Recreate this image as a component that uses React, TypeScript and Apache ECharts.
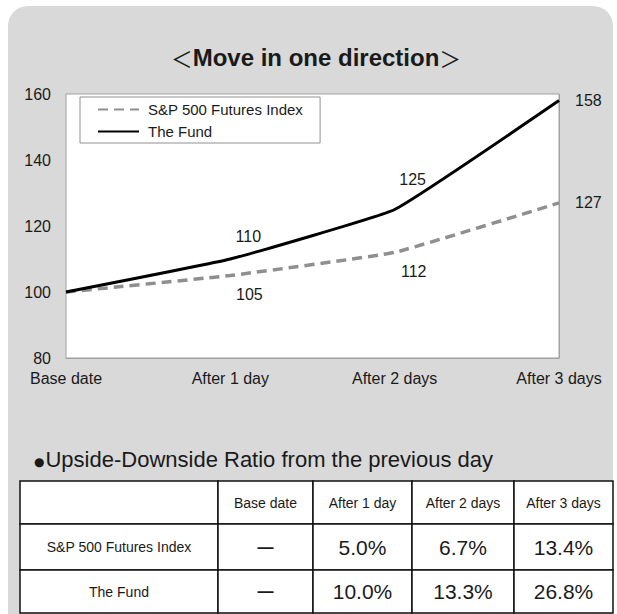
import React, { useEffect, useRef } from "react";
import * as echarts from "echarts";

const categories = ["Base date", "After 1 day", "After 2 days", "After 3 days"];
const spName = "S&P 500 Futures Index";
const fundName = "The Fund";
const spValues = [100, 105, 112, 127];
const fundValues = [100, 110, 125, 158];
const yMin = 80;
const yMax = 160;
const yInterval = 20;
const chartTitle = "Move in one direction";
const tableHeading = "Upside-Downside Ratio from the previous day";
const tableRowNames = [spName, fundName];
const spRatios = ["—", "5.0%", "6.7%", "13.4%"];
const fundRatios = ["—", "10.0%", "13.3%", "26.8%"];

// label placement styles (not data)
const fundLabelStyle = [
  null,
  { position: "top", offset: [18, -10] },
  { position: "top", offset: [18, -17] },
  { position: "right", offset: [11, 0] },
];
const spLabelStyle = [
  null,
  { position: "bottom", offset: [19, 6] },
  { position: "bottom", offset: [19, 6] },
  { position: "right", offset: [11, 0] },
];

const FONT = "'Liberation Sans', Arial, sans-serif";
const TEXT = "#1a1a1a";

function buildSeriesData(values: number[], styles: any[]) {
  return values.map((v, i) => {
    const s = styles[i];
    if (!s) return { value: v, label: { show: false } };
    return {
      value: v,
      label: {
        show: true,
        position: s.position,
        offset: s.offset,
        fontSize: 16,
        fontFamily: FONT,
        color: TEXT,
        opacity: 1,
      },
    };
  });
}

function buildTable(): any[] {
  const colX = [20, 218, 313, 412, 514, 613];
  const rowY = [481, 524, 570, 613];
  const els: any[] = [];
  const rows: string[][] = [
    ["", ...categories],
    [tableRowNames[0], ...spRatios],
    [tableRowNames[1], ...fundRatios],
  ];
  rows.forEach((row, r) => {
    row.forEach((cell, c) => {
      const x0 = colX[c];
      const x1 = colX[c + 1];
      const y0 = rowY[r];
      const y1 = rowY[r + 1];
      els.push({
        type: "rect",
        shape: { x: x0, y: y0, width: x1 - x0, height: y1 - y0 },
        style: { fill: "#ffffff", stroke: "#111111", lineWidth: 1.5 },
        z: 1,
      });
      if (cell) {
        let fontSize = 14;
        if (r > 0 && c > 0) fontSize = cell === "—" ? 16 : 21;
        els.push({
          type: "text",
          x: (x0 + x1) / 2,
          y: (y0 + y1) / 2,
          style: {
            text: cell,
            fontSize,
            fontFamily: FONT,
            fill: TEXT,
            align: "center",
            verticalAlign: "middle",
            fontWeight: cell === "—" ? "bold" : "normal",
          },
          z: 2,
        });
      }
    });
  });
  return els;
}

export default function App() {
  const ref = useRef<HTMLDivElement>(null);
  useEffect(() => {
    if (!ref.current) return;
    const chart = echarts.init(ref.current, undefined, { renderer: "svg" });
    const option: any = {
      animation: false,
      backgroundColor: "#ffffff",
      grid: {
        left: 66,
        right: 617 - 559,
        top: 94,
        bottom: 614 - 358,
        show: true,
        backgroundColor: "#ffffff",
        borderColor: "#a0a0a0",
        borderWidth: 1,
        z: 1,
      },
      legend: {
        orient: "vertical",
        left: 80,
        top: 97,
        backgroundColor: "#ffffff",
        borderColor: "#909090",
        borderWidth: 1,
        borderRadius: 0,
        padding: [5, 17, 4, 17],
        itemWidth: 41,
        itemHeight: 14,
        itemGap: 7,
        itemStyle: { opacity: 0 },
        textStyle: { fontSize: 15, fontFamily: FONT, color: TEXT, padding: [0, 0, 0, 4] },
        data: [spName, fundName],
      },
      xAxis: {
        type: "category",
        data: categories,
        boundaryGap: false,
        axisLine: { show: true, lineStyle: { color: "#a0a0a0" } },
        axisTick: { show: false },
        axisLabel: { fontSize: 16, fontFamily: FONT, color: TEXT, margin: 12, interval: 0 },
        splitLine: { show: true, lineStyle: { color: "#a0a0a0", width: 1 } },
      },
      yAxis: {
        type: "value",
        min: yMin,
        max: yMax,
        interval: yInterval,
        axisLine: { show: true, lineStyle: { color: "#a0a0a0" } },
        axisTick: { show: false },
        axisLabel: { fontSize: 16, fontFamily: FONT, color: TEXT, margin: 15 },
        splitLine: { show: true, lineStyle: { color: "#a0a0a0", width: 1 } },
      },
      series: [
        {
          name: spName,
          type: "line",
          data: buildSeriesData(spValues, spLabelStyle),
          symbol: "circle",
          symbolSize: 0,
          showSymbol: true,
          smooth: 0.1,
          lineStyle: { color: "#8f8f8f", width: 3.5, type: [10, 6] },
          itemStyle: { color: "#8f8f8f" },
          z: 3,
        },
        {
          name: fundName,
          type: "line",
          data: buildSeriesData(fundValues, fundLabelStyle),
          symbol: "circle",
          symbolSize: 0,
          showSymbol: true,
          smooth: 0.1,
          lineStyle: { color: "#000000", width: 3 },
          itemStyle: { color: "#000000" },
          z: 4,
        },
      ],
      graphic: [
        {
          type: "rect",
          shape: { x: 8, y: 6, width: 605, height: 640, r: [20, 20, 0, 0] },
          style: { fill: "#d9d9d9" },
          z: -10,
        },
        {
          type: "text",
          x: 316,
          y: 57,
          style: {
            text: "{a|＜}{b|" + chartTitle + "}{a|＞}",
            align: "center",
            verticalAlign: "middle",
            fill: TEXT,
            rich: {
              a: { fontSize: 22, fontFamily: "'Noto Sans CJK JP', sans-serif", fill: TEXT, fontWeight: "normal" },
              b: { fontSize: 24, fontFamily: FONT, fontWeight: "bold", fill: TEXT },
            },
          },
          z: 5,
        },
        {
          type: "text",
          x: 34,
          y: 459,
          style: {
            text: "{a|●}{b|" + tableHeading + "}",
            align: "left",
            verticalAlign: "middle",
            fill: TEXT,
            rich: {
              a: { fontSize: 12, fontFamily: "'DejaVu Sans', sans-serif", fill: TEXT, padding: [5, 1, 0, 0] },
              b: { fontSize: 22, fontFamily: FONT, fill: TEXT },
            },
          },
          z: 5,
        },
        ...buildTable(),
      ],
    };
    chart.setOption(option);
    return () => chart.dispose();
  }, []);
  return (
    <div
      ref={ref}
      style={{ position: "fixed", left: 0, top: 0, width: 617, height: 614 }}
    />
  );
}
